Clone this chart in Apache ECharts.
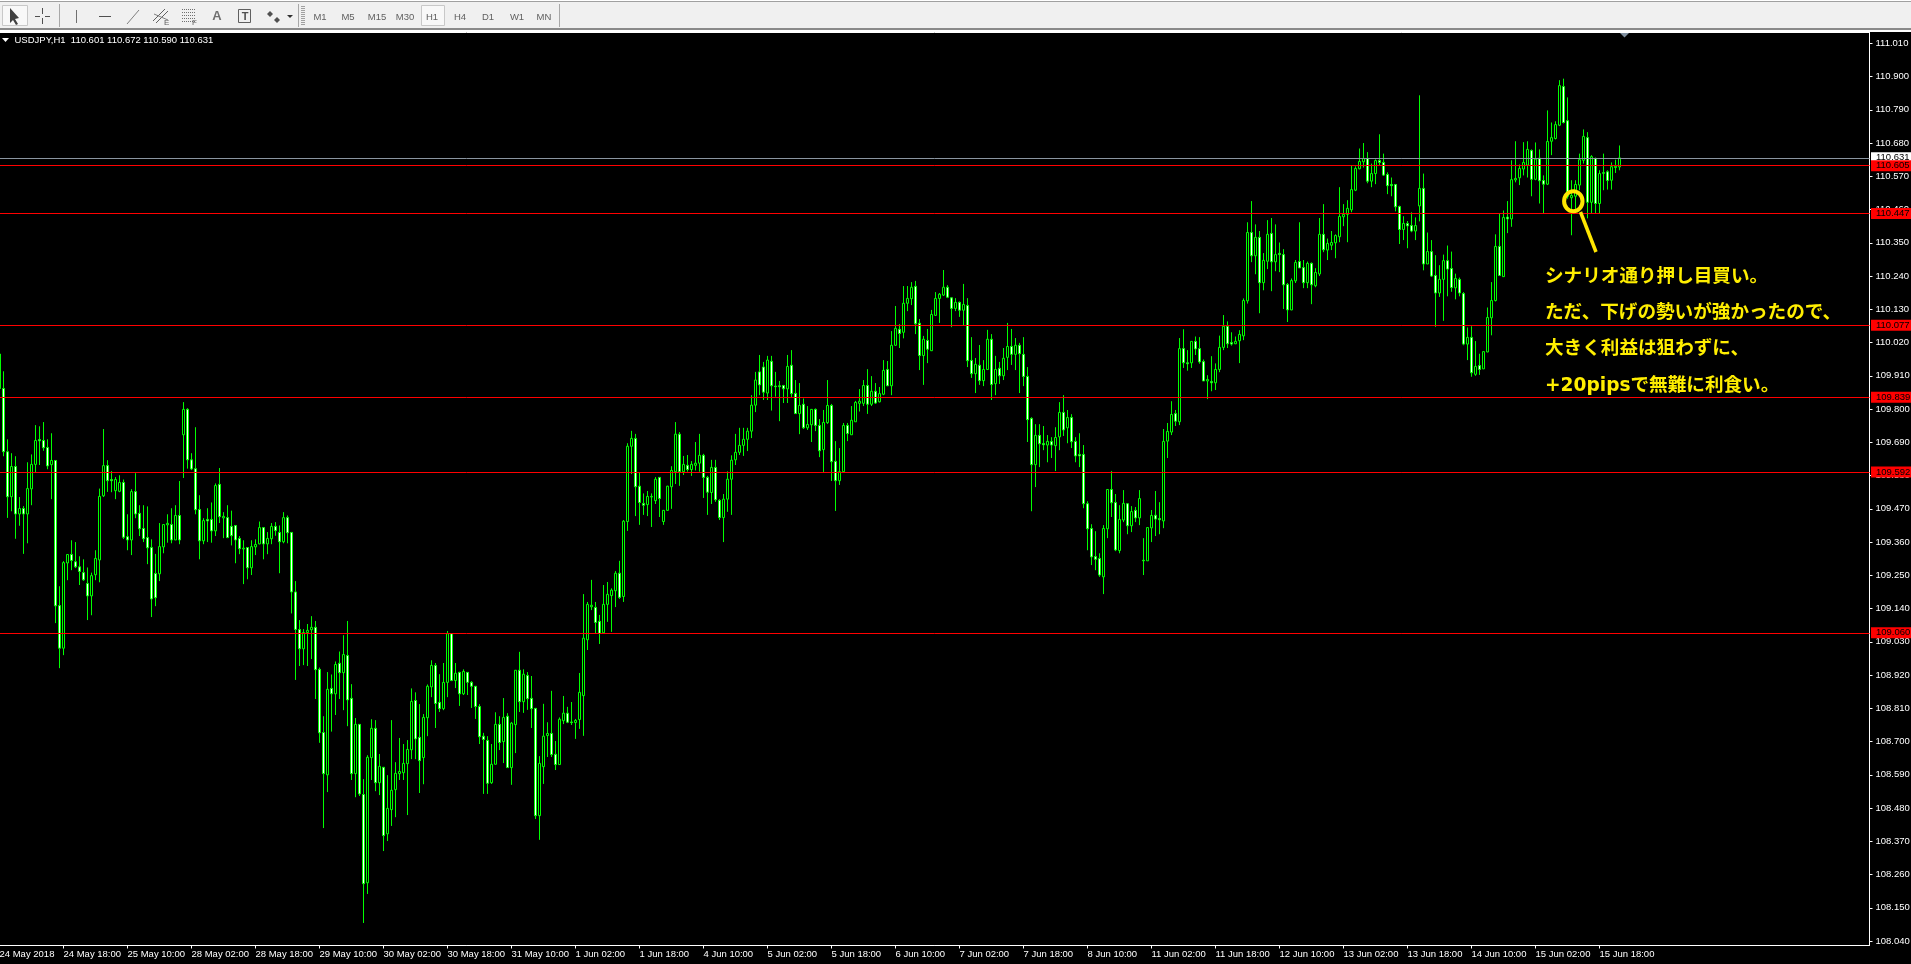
<!DOCTYPE html>
<html><head><meta charset="utf-8"><title>USDJPY,H1</title>
<style>html,body{margin:0;padding:0;background:#000;overflow:hidden}#c{width:1911px;height:964px}</style>
<script src="https://cdn.jsdelivr.net/npm/echarts@6/dist/echarts.min.js"></script>
</head><body><div id="c"></div>
<script>
const symbolTitle = 'USDJPY,H1  110.601 110.672 110.590 110.631';
const timeLabels = ['24 May 2018','24 May 18:00','25 May 10:00','28 May 02:00','28 May 18:00','29 May 10:00','30 May 02:00','30 May 18:00','31 May 10:00','1 Jun 02:00','1 Jun 18:00','4 Jun 10:00','5 Jun 02:00','5 Jun 18:00','6 Jun 10:00','7 Jun 02:00','7 Jun 18:00','8 Jun 10:00','11 Jun 02:00','11 Jun 18:00','12 Jun 10:00','13 Jun 02:00','13 Jun 18:00','14 Jun 10:00','15 Jun 02:00','15 Jun 18:00'];
const priceTicks = [111.010,110.900,110.790,110.680,110.570,110.460,110.350,110.240,110.130,110.020,109.910,109.800,109.690,109.580,109.470,109.360,109.250,109.140,109.030,108.920,108.810,108.700,108.590,108.480,108.370,108.260,108.150,108.040];
const redLevels = [110.605,110.447,110.077,109.839,109.592,109.060];
const lastPrice = 110.631;
const noteLines = ['シナリオ通り押し目買い。','ただ、下げの勢いが強かったので、','大きく利益は狙わずに、','+20pipsで無難に利食い。'];
const timeframes = ['M1','M5','M15','M30','H1','H4','D1','W1','MN'];

const opens = [109.982,109.868,109.659,109.510,109.610,109.453,109.471,109.453,109.536,109.617,
109.699,109.696,109.673,109.616,109.630,109.150,109.009,109.291,109.319,109.295,
109.278,109.259,109.223,109.182,109.252,109.301,109.513,109.613,109.567,109.530,
109.528,109.557,109.378,109.367,109.527,109.455,109.405,109.375,109.342,109.256,
109.255,109.344,109.417,109.418,109.367,109.448,109.715,109.799,109.632,109.603,
109.468,109.364,109.435,109.435,109.397,109.551,109.440,109.441,109.412,109.415,
109.372,109.337,109.342,109.275,109.344,109.354,109.408,109.354,109.371,109.412,
109.392,109.361,109.441,109.392,109.195,109.071,109.007,109.061,109.070,109.078,
108.939,108.730,108.590,108.876,108.858,108.959,108.928,108.985,108.843,108.594,
108.757,108.525,108.233,108.647,108.744,108.564,108.615,108.395,108.475,108.541,
108.594,108.597,108.627,108.673,108.836,108.714,108.647,108.779,108.881,108.952,
108.830,108.809,108.896,109.057,108.902,108.929,108.858,108.929,108.896,108.883,
108.816,108.718,108.704,108.564,108.625,108.757,108.700,108.784,108.614,108.756,
108.936,108.832,108.919,108.843,108.810,108.455,108.617,108.720,108.727,108.658,
108.624,108.769,108.794,108.765,108.763,108.773,108.852,109.037,109.146,109.144,
109.098,109.060,109.154,109.183,109.199,109.257,109.180,109.428,109.677,109.703,
109.545,109.488,109.484,109.509,109.497,109.574,109.428,109.465,109.543,109.593,
109.717,109.593,109.614,109.600,109.614,109.621,109.647,109.574,109.524,109.607,
109.498,109.441,109.502,109.568,109.632,109.657,109.680,109.700,109.727,109.813,
109.923,109.939,109.853,109.958,109.876,109.877,109.878,109.867,109.945,109.852,
109.785,109.816,109.738,109.748,109.799,109.746,109.666,109.755,109.812,109.627,
109.563,109.593,109.746,109.715,109.758,109.819,109.819,109.878,109.816,109.859,
109.824,109.849,109.931,109.877,110.011,110.064,110.054,110.150,110.165,110.206,
110.084,109.977,110.027,109.993,110.110,110.166,110.177,110.203,110.168,110.133,
110.153,110.127,110.143,109.961,109.917,109.945,109.894,109.931,110.031,109.884,
109.935,109.910,109.971,110.007,109.981,110.011,109.981,109.908,109.769,109.616,
109.713,109.686,109.681,109.693,109.679,109.708,109.789,109.738,109.772,109.693,
109.650,109.650,109.487,109.405,109.312,109.306,109.245,109.404,109.534,109.491,
109.332,109.433,109.487,109.414,109.465,109.440,109.300,109.298,109.407,109.449,
109.438,109.430,109.694,109.724,109.785,109.758,110.000,109.953,109.953,110.024,
110.000,109.957,109.893,109.891,109.887,109.931,110.004,110.074,110.020,110.016,
110.026,110.042,110.158,110.384,110.307,110.368,110.218,110.289,110.381,110.287,
110.315,110.311,110.212,110.128,110.224,110.288,110.268,110.218,110.282,110.208,
110.247,110.378,110.326,110.342,110.350,110.370,110.436,110.444,110.459,110.524,
110.595,110.618,110.629,110.554,110.579,110.622,110.616,110.576,110.543,110.543,
110.470,110.394,110.414,110.407,110.389,110.472,110.530,110.280,110.321,110.242,
110.184,110.229,110.291,110.265,110.201,110.229,110.182,110.015,110.037,109.915,
109.944,109.933,109.989,110.102,110.159,110.338,110.238,110.435,110.429,110.558,
110.565,110.594,110.607,110.655,110.560,110.630,110.556,110.544,110.686,110.695,
110.739,110.867,110.754,110.499,110.504,110.541,110.623,110.698,110.484,110.629,
110.480,110.582,110.585,110.557,110.599,110.601];

const highs = [109.982,109.925,109.700,109.654,109.644,109.509,109.479,109.624,109.650,109.747,
109.743,109.757,109.700,109.720,109.631,109.214,109.297,109.319,109.366,109.360,
109.313,109.303,109.276,109.259,109.333,109.537,109.734,109.631,109.595,109.575,
109.581,109.567,109.452,109.535,109.588,109.482,109.482,109.478,109.369,109.321,
109.423,109.419,109.452,109.472,109.482,109.562,109.823,109.803,109.654,109.740,
109.515,109.439,109.472,109.491,109.554,109.605,109.459,109.482,109.464,109.415,
109.380,109.366,109.343,109.366,109.369,109.428,109.408,109.393,109.423,109.426,
109.415,109.459,109.448,109.392,109.231,109.102,109.072,109.089,109.115,109.099,
108.945,108.784,108.930,108.922,108.965,108.998,109.052,109.099,108.890,108.778,
108.757,108.576,108.655,108.774,108.771,108.659,108.616,108.589,108.771,108.632,
108.712,108.692,108.705,108.876,108.863,108.824,108.791,108.889,108.969,108.960,
108.923,108.960,109.066,109.058,108.960,108.931,108.939,108.929,108.900,108.884,
108.824,108.729,108.718,108.692,108.797,108.784,108.844,108.794,108.765,108.936,
108.997,108.939,108.930,108.917,108.811,108.652,108.825,108.764,108.868,108.702,
108.780,108.851,108.815,108.831,108.775,108.927,109.188,109.162,109.235,109.162,
109.119,109.218,109.228,109.207,109.264,109.298,109.433,109.687,109.728,109.718,
109.589,109.521,109.529,109.521,109.575,109.574,109.466,109.546,109.611,109.757,
109.724,109.645,109.648,109.628,109.691,109.718,109.652,109.579,109.632,109.632,
109.502,109.519,109.594,109.647,109.718,109.738,109.738,109.738,109.846,109.923,
109.979,109.956,109.976,109.976,109.923,109.893,109.880,109.979,109.995,109.896,
109.886,109.835,109.810,109.800,109.802,109.767,109.797,109.896,109.817,109.694,
109.671,109.754,109.754,109.810,109.827,109.866,109.896,109.932,109.909,109.886,
109.873,109.962,109.959,110.058,110.141,110.081,110.207,110.207,110.220,110.224,
110.098,110.042,110.065,110.128,110.187,110.184,110.260,110.210,110.170,110.167,
110.156,110.214,110.167,110.038,109.969,110.012,109.962,110.062,110.048,109.976,
109.956,110.002,110.085,110.065,110.035,110.019,110.038,109.939,109.773,109.750,
109.750,109.744,109.714,109.707,109.740,109.823,109.846,109.797,109.783,109.707,
109.720,109.681,109.495,109.419,109.396,109.323,109.416,109.535,109.595,109.519,
109.482,109.532,109.489,109.479,109.476,109.532,109.373,109.409,109.466,109.529,
109.492,109.734,109.754,109.826,109.797,110.035,110.064,109.995,110.024,110.040,
110.038,109.964,109.912,109.975,109.951,110.043,110.111,110.090,110.054,110.040,
110.061,110.166,110.418,110.488,110.411,110.389,110.316,110.425,110.432,110.411,
110.351,110.329,110.217,110.232,110.293,110.418,110.293,110.288,110.285,110.266,
110.432,110.478,110.364,110.389,110.378,110.534,110.478,110.491,110.604,110.603,
110.662,110.680,110.650,110.612,110.626,110.709,110.645,110.583,110.566,110.543,
110.473,110.438,110.422,110.451,110.434,110.838,110.579,110.384,110.359,110.309,
110.276,110.311,110.341,110.321,110.248,110.235,110.187,110.070,110.074,110.025,
109.983,109.991,110.136,110.220,110.378,110.447,110.457,110.488,110.623,110.686,
110.609,110.683,110.686,110.659,110.682,110.659,110.573,110.788,110.748,110.752,
110.888,110.893,110.831,110.557,110.557,110.645,110.725,110.716,110.640,110.632,
110.590,110.645,110.590,110.616,110.625,110.672];

const lows = [109.863,109.644,109.440,109.462,109.371,109.414,109.321,109.356,109.482,109.591,
109.615,109.662,109.601,109.502,109.092,108.943,108.986,109.234,109.267,109.274,
109.218,109.232,109.102,109.118,109.234,109.227,109.509,109.526,109.525,109.502,
109.525,109.370,109.333,109.317,109.439,109.380,109.360,109.287,109.112,109.148,
109.231,109.323,109.358,109.356,109.367,109.353,109.572,109.603,109.598,109.452,
109.303,109.353,109.360,109.358,109.380,109.423,109.373,109.373,109.349,109.290,
109.320,109.221,109.237,109.251,109.317,109.353,109.303,109.320,109.353,109.381,
109.257,109.356,109.356,109.124,108.904,108.950,108.953,108.950,108.973,108.841,
108.696,108.414,108.533,108.733,108.788,108.841,108.804,108.751,108.573,108.516,
108.520,108.100,108.196,108.573,108.536,108.523,108.338,108.371,108.421,108.450,
108.573,108.573,108.457,108.642,108.642,108.530,108.559,108.718,108.847,108.745,
108.798,108.804,108.847,108.900,108.877,108.818,108.854,108.854,108.811,108.775,
108.692,108.527,108.527,108.560,108.625,108.672,108.629,108.614,108.557,108.662,
108.798,108.795,108.805,108.745,108.444,108.375,108.560,108.649,108.649,108.606,
108.624,108.758,108.761,108.755,108.709,108.742,108.719,109.003,109.135,109.058,
109.023,109.058,109.096,109.063,109.145,109.172,109.162,109.397,109.585,109.446,
109.417,109.450,109.446,109.410,109.486,109.443,109.417,109.463,109.470,109.552,
109.546,109.582,109.593,109.579,109.597,109.593,109.506,109.450,109.486,109.493,
109.433,109.360,109.460,109.450,109.615,109.648,109.645,109.661,109.704,109.790,
109.846,109.830,109.830,109.795,109.841,109.760,109.820,109.820,109.840,109.785,
109.717,109.734,109.731,109.691,109.727,109.641,109.592,109.751,109.562,109.463,
109.549,109.592,109.694,109.715,109.758,109.792,109.810,109.784,109.810,109.817,
109.822,109.846,109.876,109.846,110.009,110.002,110.034,110.124,110.144,110.048,
109.929,109.880,109.952,109.992,110.108,110.085,110.174,110.167,110.071,110.124,
110.105,110.077,109.939,109.903,109.853,109.880,109.876,109.929,109.830,109.846,
109.883,109.896,109.929,109.946,109.929,109.853,109.876,109.691,109.462,109.542,
109.608,109.664,109.624,109.638,109.595,109.664,109.711,109.687,109.671,109.624,
109.608,109.472,109.333,109.284,109.267,109.245,109.188,109.373,109.443,109.330,
109.323,109.426,109.386,109.393,109.426,109.416,109.251,109.298,109.360,109.380,
109.386,109.406,109.638,109.714,109.744,109.747,109.936,109.927,109.936,109.979,
109.950,109.893,109.833,109.859,109.863,109.922,109.995,110.002,110.010,110.015,
109.952,110.028,110.149,110.286,110.246,110.117,110.193,110.263,110.190,110.256,
110.253,110.131,110.088,110.127,110.217,110.267,110.200,110.200,110.147,110.203,
110.240,110.319,110.293,110.326,110.299,110.352,110.405,110.352,110.451,110.521,
110.593,110.599,110.547,110.534,110.544,110.604,110.571,110.511,110.504,110.454,
110.346,110.359,110.332,110.385,110.359,110.421,110.259,110.280,110.237,110.072,
110.171,110.092,110.173,110.188,110.163,110.173,110.011,109.962,109.907,109.910,
109.913,109.933,109.988,110.044,110.156,110.240,110.237,110.382,110.403,110.550,
110.541,110.573,110.566,110.504,110.557,110.480,110.447,110.541,110.640,110.692,
110.736,110.745,110.496,110.375,110.447,110.524,110.612,110.431,110.447,110.448,
110.447,110.524,110.526,110.526,110.581,110.590];

const closes = [109.868,109.659,109.510,109.610,109.453,109.471,109.453,109.537,109.617,109.696,
109.695,109.672,109.612,109.630,109.149,109.009,109.292,109.319,109.299,109.278,
109.263,109.235,109.182,109.249,109.306,109.511,109.613,109.563,109.563,109.567,
109.557,109.376,109.367,109.527,109.453,109.404,109.371,109.341,109.172,109.176,
109.345,109.418,109.422,109.367,109.448,109.367,109.799,109.632,109.602,109.467,
109.364,109.431,109.430,109.397,109.547,109.444,109.445,109.375,109.381,109.367,
109.338,109.340,109.275,109.345,109.352,109.408,109.354,109.372,109.412,109.398,
109.361,109.441,109.391,109.195,109.071,109.007,109.061,109.068,109.078,108.938,
108.729,108.594,108.873,108.858,108.955,108.928,108.988,108.838,108.594,108.757,
108.527,108.230,108.648,108.744,108.564,108.618,108.389,108.479,108.539,108.595,
108.601,108.628,108.674,108.833,108.709,108.637,108.780,108.883,108.952,108.826,
108.809,108.896,109.057,108.902,108.926,108.858,108.932,108.896,108.883,108.816,
108.716,108.707,108.562,108.625,108.757,108.697,108.780,108.614,108.761,108.936,
108.832,108.923,108.842,108.809,108.455,108.628,108.718,108.727,108.657,108.624,
108.774,108.794,108.764,108.763,108.770,108.863,109.042,109.154,109.151,109.094,
109.058,109.154,109.187,109.201,109.257,109.177,109.429,109.677,109.703,109.543,
109.491,109.482,109.511,109.511,109.568,109.504,109.465,109.545,109.597,109.717,
109.593,109.617,109.600,109.617,109.621,109.647,109.574,109.525,109.607,109.500,
109.441,109.502,109.568,109.631,109.657,109.680,109.700,109.727,109.813,109.896,
109.880,109.856,109.962,109.877,109.874,109.874,109.867,109.941,109.851,109.785,
109.812,109.738,109.749,109.799,109.746,109.662,109.756,109.812,109.626,109.563,
109.593,109.746,109.719,109.763,109.822,109.826,109.878,109.816,109.859,109.820,
109.851,109.928,109.877,110.011,110.067,110.050,110.150,110.166,110.203,110.082,
109.977,110.031,109.998,110.113,110.166,110.180,110.203,110.170,110.133,110.153,
110.127,110.146,109.960,109.917,109.948,109.894,109.931,110.031,109.881,109.931,
109.910,109.968,110.007,109.981,110.011,109.983,109.908,109.765,109.616,109.713,
109.685,109.682,109.693,109.681,109.706,109.789,109.731,109.772,109.692,109.645,
109.645,109.487,109.404,109.311,109.303,109.251,109.405,109.534,109.490,109.334,
109.435,109.488,109.414,109.461,109.440,109.504,109.298,109.408,109.448,109.436,
109.434,109.693,109.726,109.782,109.760,110.000,109.953,109.950,110.024,109.999,
109.956,109.893,109.898,109.887,109.931,110.004,110.074,110.016,110.015,110.024,
110.047,110.159,110.384,110.307,110.368,110.218,110.292,110.378,110.287,110.311,
110.311,110.211,110.128,110.225,110.285,110.267,110.218,110.282,110.211,110.252,
110.378,110.327,110.348,110.351,110.374,110.437,110.444,110.464,110.526,110.596,
110.619,110.629,110.554,110.579,110.622,110.616,110.574,110.539,110.539,110.469,
110.394,110.414,110.406,110.389,110.407,110.530,110.280,110.321,110.240,110.184,
110.229,110.291,110.263,110.202,110.232,110.184,110.015,110.037,109.920,109.941,
109.931,109.990,110.103,110.159,110.338,110.242,110.434,110.429,110.559,110.563,
110.596,110.616,110.659,110.560,110.627,110.555,110.544,110.685,110.698,110.741,
110.870,110.748,110.504,110.507,110.543,110.625,110.702,110.484,110.635,110.480,
110.579,110.580,110.556,110.602,110.603,110.631];

const TICK_EVERY = 16, SLOTS = 468;
const categories = Array.from({length:SLOTS},(_,i)=> (i%TICK_EVERY===0 && timeLabels[i/TICK_EVERY]) || '');
const candles = opens.map((o,i)=>[o,closes[i],lows[i],highs[i]]);
const AXIS_FONT = '"Liberation Sans",sans-serif';
const AXIS_SIZE = 9.5;
const isTick = i => i%TICK_EVERY===0 && i/TICK_EVERY < timeLabels.length;

const levelLine = (v,lineColor,bg) => ({
  yAxis:v, lineStyle:{color:lineColor,width:1,type:'solid',opacity:1},
  label:{show:true,position:'end',distance:1.5,formatter:()=>v.toFixed(3),color:'#000',backgroundColor:bg,
    fontFamily:AXIS_FONT,fontSize:AXIS_SIZE,padding:[0,0,0,5],width:35,height:11,lineHeight:11,overflow:'none',align:'left',verticalAlign:'middle'}
});

const G = [];
const rect=(x,y,w,h,fill,stroke)=>G.push({type:'rect',shape:{x,y,width:w,height:h},style:{fill:fill||'none',stroke:stroke||'none',lineWidth:1},z:50,silent:true});
const seg=(x1,y1,x2,y2,c,w)=>G.push({type:'line',shape:{x1,y1,x2,y2},style:{stroke:c||'#606060',lineWidth:w||1},z:51,silent:true});
const poly=(pts,fill)=>G.push({type:'polygon',shape:{points:pts},style:{fill},z:51,silent:true});
const txt=(x,y,t,font,fill,align)=>G.push({type:'text',x,y,style:{text:t,font,fill,align:align||'left',verticalAlign:'middle'},z:52,silent:true});

rect(0,0,1911,29,'#f0f0f0');
rect(0,0,1911,1,'#ffffff'); rect(0,1,1911,1,'#a0a0a0');
rect(0,28,1911,2,'#8a8a8a'); rect(0,30,1911,2,'#ffffff');
// toolbar buttons and separators
rect(2.5,5.5,25,20,'#f8f8f8','#c8c8c8');
rect(421.5,5.5,23,20,'#f8f8f8','#c8c8c8');
[59.5,298.5,559.5].forEach(x=>seg(x,4,x,27,'#a8a8a8'));
for(let y=6;y<26;y+=2) seg(301,y+.5,305,y+.5,'#a0a0a0');
// drawing tools
poly([[10,8],[10,23],[13,20],[16,25],[18,24],[15,19],[19,18]],'#404040');
seg(42.5,8,42.5,14,'#505050');seg(42.5,18,42.5,24,'#505050');seg(35,16.5,40,16.5,'#505050');seg(45,16.5,50,16.5,'#505050');
seg(76.5,10,76.5,23,'#707070');
seg(99,16.5,111,16.5,'#505050');
seg(127,24,139,10,'#808080');
seg(153,21,165,9,'#606060');seg(156,23,168,11,'#606060');seg(154,14,168,20,'#808080');
txt(164,23,'E','8px '+AXIS_FONT,'#606060');
for(let i=0;i<5;i++){for(let j=0;j<14;j+=2) rect(182+j,9+i*3,1,1,'#707070');}
txt(192,23,'F','8px '+AXIS_FONT,'#606060');
txt(217,16.5,'A','bold 13px "Liberation Sans",sans-serif','#707070','center');
rect(238.5,9.5,12,13,'none','#606060');
txt(245,16.5,'T','bold 11px "Liberation Sans",sans-serif','#505050','center');
poly([[270,11],[273,14],[270,17],[267,14]],'#505050');poly([[277,17],[280,20],[277,23],[274,20]],'#505050');
poly([[287,15],[293,15],[290,18]],'#303030');
timeframes.forEach((t,i)=>txt([320,348,377,405,432,460,488,517,544][i],17,t,AXIS_SIZE+'px '+AXIS_FONT,'#606060','center'));

// symbol caption
poly([[2,38],[9,38],[5.5,42]],'#ffffff');
txt(14.5,40.5,symbolTitle,AXIS_SIZE+'px '+AXIS_FONT,'#ffffff');
// chart-shift marker
poly([[1620,33],[1629,33],[1624.5,37.5]],'#8090a0');
// annotation
G.push({type:'ellipse',shape:{cx:1573.3,cy:201.3,rx:9.2,ry:10},style:{fill:'none',stroke:'#ffe600',lineWidth:4},z:60,silent:true});
G.push({type:'line',shape:{x1:1580.5,y1:212,x2:1596,y2:252},style:{stroke:'#ffe600',lineWidth:3.5},z:60,silent:true});
[277,313,349,386].forEach((y,i)=>G.push({type:'text',x:1545,y,style:{text:noteLines[i],font:'bold 18.6px "DejaVu Sans","Noto Sans CJK JP",sans-serif',fill:'#ffee00',align:'left',verticalAlign:'middle'},z:60,silent:true}));

const chart = echarts.init(document.getElementById('c'),null,{renderer:'canvas',width:1911,height:964});
chart.setOption({
  animation:false, backgroundColor:'#000',
  grid:{left:-2.5,top:32.5,width:1872,height:913,outerBoundsMode:'none',containLabel:false,show:true,borderColor:'#fff',borderWidth:1,backgroundColor:'#000'},
  xAxis:{type:'category',data:categories,boundaryGap:true,
    axisLine:{show:true,lineStyle:{color:'#fff',width:1}},
    axisTick:{show:true,length:3,alignWithLabel:true,interval:isTick,lineStyle:{color:'#fff'}},
    axisLabel:{show:true,interval:isTick,color:'#fff',fontFamily:AXIS_FONT,fontSize:AXIS_SIZE,margin:4,align:'left',hideOverlap:false},
    splitLine:{show:false}},
  yAxis:{type:'value',position:'right',min:108.0255,max:111.0457,scale:true,
    axisLine:{show:true,lineStyle:{color:'#fff',width:1}},
    axisTick:{show:true,length:3,customValues:priceTicks,lineStyle:{color:'#fff'}},
    axisLabel:{show:true,customValues:priceTicks,formatter:v=>v.toFixed(3),color:'#fff',fontFamily:AXIS_FONT,fontSize:AXIS_SIZE,margin:6,align:'left',hideOverlap:false},
    splitLine:{show:false}},
  series:[{type:'candlestick',data:candles,barWidth:2,clip:true,
    itemStyle:{color:'#000',color0:'#fff',borderColor:'#00ff00',borderColor0:'#00ff00',borderWidth:1},
    markLine:{silent:true,symbol:['none','none'],animation:false,precision:3,
      data:[levelLine(lastPrice,'#8a95a0','#fff')].concat(redLevels.map(v=>levelLine(v,'#ff0000','#ff0000')))}
  }],
  graphic:{elements:G}
});
</script></body></html>
